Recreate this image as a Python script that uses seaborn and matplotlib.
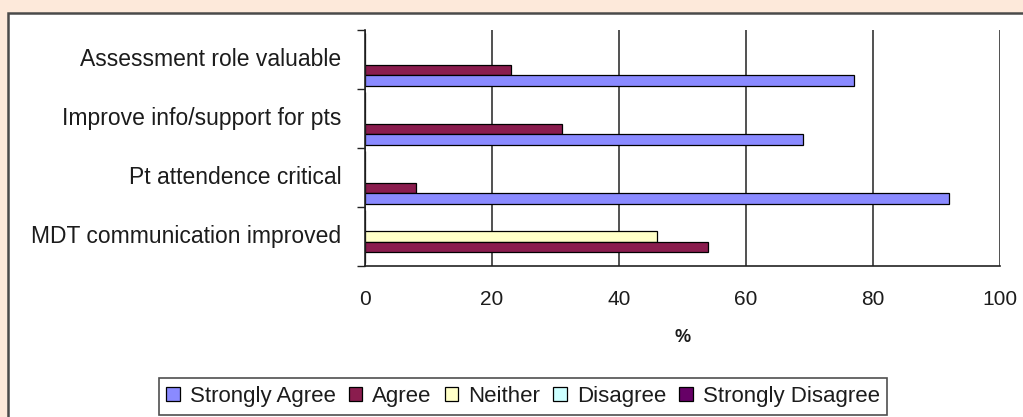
import numpy as np
import pandas as pd
import matplotlib
matplotlib.use("Agg")
import matplotlib.pyplot as plt
from matplotlib.patches import Rectangle, Patch
import seaborn as sns

# Survey statements and response percentages
categories = [
    "Assessment role valuable",
    "Improve info/support for pts",
    "Pt attendence critical",
    "MDT communication improved",
]
strongly_agree = [77, 69, 92, 0]
agree = [23, 31, 8, 54]
neither = [0, 0, 0, 46]
disagree = [0, 0, 0, 0]
strongly_disagree = [0, 0, 0, 0]

responses = ["Strongly Agree", "Agree", "Neither", "Disagree", "Strongly Disagree"]
x_ticks = [0, 20, 40, 60, 80, 100]
x_label = "%"

colors = {
    "Strongly Agree": "#8a8aff",
    "Agree": "#8a1c4e",
    "Neither": "#ffffc8",
    "Disagree": "#ccffff",
    "Strongly Disagree": "#660066",
}

series = dict(zip(responses, [strongly_agree, agree, neither, disagree, strongly_disagree]))
df = pd.DataFrame(
    [(cat, resp, vals[i]) for resp, vals in series.items() for i, cat in enumerate(categories)],
    columns=["statement", "response", "percent"],
)

sns.set_style("white")
plt.rcParams["font.family"] = ["Liberation Sans", "DejaVu Sans"]
text_color = "#1c1c1c"

W, H = 1023, 417
fig = plt.figure(figsize=(W / 100, H / 100), dpi=100, facecolor="#fde9da")

# white chart panel with dark border, kept beneath the axes
fig.patches.append(Rectangle((8 / W, -0.2), 1.2, 1.2 - 13 / H, transform=fig.transFigure,
                             facecolor="white", edgecolor="#4a4a4a", linewidth=1.8, zorder=-10))

ax = fig.add_axes([365 / W, 1 - 266 / H, 635 / W, 236 / H])
ax.set_facecolor("none")

sns.barplot(
    data=df, x="percent", y="statement", hue="response",
    hue_order=responses[::-1], palette=colors, orient="h",
    width=0.9, dodge=True, edgecolor="black", linewidth=0.9,
    legend=False, ax=ax, errorbar=None, saturation=1,
)

ax.set_xlim(0, 100)
ax.set_ylim(len(categories) - 0.5, -0.5)
ax.set_xticks(x_ticks)
ax.set_xticklabels([str(t) for t in x_ticks], fontsize=15, color=text_color)
ax.tick_params(axis="x", direction="out", length=4, width=1, pad=13, color="#222222")

# major ticks mark the boundaries between statements; labels sit on minor ticks
ax.set_yticks(np.arange(len(categories) + 1) - 0.5)
ax.set_yticklabels([""] * (len(categories) + 1))
ax.set_yticks(np.arange(len(categories)) - 0.05, minor=True)
ax.set_yticklabels(categories, minor=True, fontsize=16.5, color=text_color)
ax.tick_params(axis="y", which="major", direction="out", length=6, width=1, color="#222222", left=True)
ax.tick_params(axis="y", which="minor", length=0, pad=17)

ax.grid(axis="x", color="#333333", linewidth=1.2)
ax.grid(axis="y", visible=False)
ax.set_axisbelow(True)

for side in ["top", "right"]:
    ax.spines[side].set_visible(False)
for side in ["left", "bottom"]:
    ax.spines[side].set_color("#222222")
    ax.spines[side].set_linewidth(1.2)

ax.set_xlabel(x_label, fontsize=13, fontweight="bold", color=text_color)
ax.set_ylabel("")
ax.xaxis.set_label_coords(0.5, -0.265)

handles = [Patch(facecolor=colors[r], edgecolor="black", linewidth=0.9) for r in responses]
leg = fig.legend(
    handles, responses, loc="lower center", bbox_to_anchor=(523 / W, 2 / H),
    ncol=5, fontsize=16, frameon=True, fancybox=False, edgecolor="#222222",
    handlelength=0.6, handleheight=0.6, handletextpad=0.45, columnspacing=0.6,
    borderpad=0.35, borderaxespad=0,
)
leg.get_frame().set_linewidth(1.2)
for t in leg.get_texts():
    t.set_color(text_color)

fig.savefig("out.png", dpi=100, facecolor=fig.get_facecolor())
